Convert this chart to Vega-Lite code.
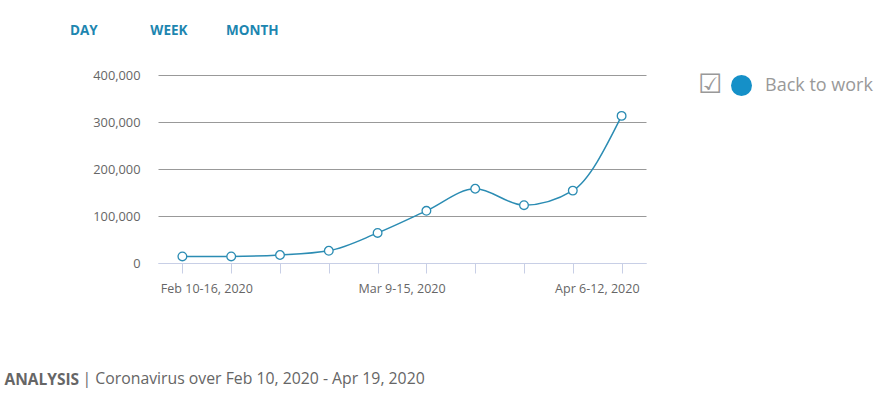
{
  "$schema": "https://vega.github.io/schema/vega-lite/v6.json",
  "autosize": {"type": "none"},
  "width": 488,
  "height": 188,
  "padding": {"left": 158, "top": 75, "right": 240, "bottom": 136},
  "background": "white",
  "config": {
    "view": {"stroke": null},
    "font": "Open Sans"
  },
  "title": {
    "text": "DAY\u00a0\u00a0\u00a0\u00a0\u00a0\u00a0\u00a0\u00a0\u00a0\u00a0\u00a0\u00a0\u00a0\u00a0\u00a0WEEK\u00a0\u00a0\u00a0\u00a0\u00a0\u00a0\u00a0\u00a0\u00a0\u00a0\u00a0MONTH",
    "anchor": "start",
    "frame": "group",
    "dx": -88,
    "offset": 32,
    "font": "Open Sans",
    "fontSize": 13.5,
    "fontWeight": "bold",
    "color": "#1d86b0"
  },
  "data": {
    "values": [
      {"week": "Feb 10-16, 2020", "series": "Back to work", "cases": 14000},
      {"week": "Feb 17-23, 2020", "series": "Back to work", "cases": 14000},
      {"week": "Feb 24-Mar 1, 2020", "series": "Back to work", "cases": 17000},
      {"week": "Mar 2-8, 2020", "series": "Back to work", "cases": 26000},
      {"week": "Mar 9-15, 2020", "series": "Back to work", "cases": 64000},
      {"week": "Mar 16-22, 2020", "series": "Back to work", "cases": 111000},
      {"week": "Mar 23-29, 2020", "series": "Back to work", "cases": 158000},
      {"week": "Mar 30-Apr 5, 2020", "series": "Back to work", "cases": 123000},
      {"week": "Apr 6-12, 2020", "series": "Back to work", "cases": 154000},
      {"week": "Apr 13-19, 2020", "series": "Back to work", "cases": 313000}
    ]
  },
  "encoding": {
    "x": {
      "field": "week",
      "type": "ordinal",
      "sort": null,
      "scale": {"type": "point", "padding": 0.5},
      "axis": {
        "title": "ANALYSIS",
        "titleFont": "Open Sans",
        "titleFontSize": 15.5,
        "titleFontWeight": "bold",
        "titleColor": "#666",
        "titleAnchor": "start",
        "titleAlign": "left",
        "titleBaseline": "alphabetic",
        "titleX": -154,
        "titleY": 121,
        "labelAngle": 0,
        "labelOverlap": false,
        "labelExpr": "(datum.value == 'Feb 10-16, 2020' || datum.value == 'Mar 9-15, 2020' || datum.value == 'Apr 6-12, 2020') ? datum.value : ''",
        "labelOffset": 24,
        "labelPadding": 9,
        "labelFontSize": 12.5,
        "labelColor": "#666",
        "domainColor": "#c8cfe6",
        "tickColor": "#c8cfe6",
        "tickSize": 10,
        "grid": false
      }
    },
    "y": {
      "field": "cases",
      "type": "quantitative",
      "scale": {"domain": [0, 400000]},
      "axis": {
        "title": "| Coronavirus over Feb 10, 2020 - Apr 19, 2020",
        "titleFont": "Open Sans",
        "titleFontSize": 15.8,
        "titleFontWeight": "normal",
        "titleColor": "#666",
        "titleAngle": 0,
        "titleAlign": "left",
        "titleBaseline": "alphabetic",
        "titleAnchor": null,
        "titleX": -76,
        "titleY": 308,
        "values": [0, 100000, 200000, 300000, 400000],
        "format": ",d",
        "labelFontSize": 12.8,
        "labelColor": "#666",
        "labelPadding": 18,
        "domain": false,
        "ticks": false,
        "grid": true,
        "gridColor": {"condition": {"test": "datum.value === 0", "value": "#c8cfe6"}, "value": "#999"},
        "gridWidth": 1
      }
    }
  },
  "layer": [
    {
      "mark": {"type": "line", "interpolate": "monotone", "strokeWidth": 1.5},
      "encoding": {
        "color": {
          "field": "series",
          "type": "nominal",
          "scale": {"range": ["#2b8cb3"]},
          "legend": {
            "title": "☑",
            "titleOrient": "left",
            "titleFontSize": 27,
            "titleFontWeight": "normal",
            "titleColor": "#999",
            "titleFont": "DejaVu Sans",
            "titlePadding": 8,
            "orient": "none",
            "legendX": 540,
            "legendY": 0,
            "symbolType": "circle",
            "symbolSize": 440,
            "symbolStrokeWidth": 0,
            "labelFont": "Open Sans",
            "labelFontSize": 18,
            "labelColor": "#999",
            "labelOffset": 13,
            "encode": {"symbols": {"update": {"fill": {"value": "#1590c8"}, "stroke": {"value": "#1590c8"}, "strokeWidth": {"value": 0}}}}
          }
        }
      }
    },
    {
      "mark": {"type": "point", "shape": "circle", "filled": true, "fill": "white", "stroke": "#2b8cb3", "strokeWidth": 1.3, "size": 75, "opacity": 1}
    }
  ]
}
